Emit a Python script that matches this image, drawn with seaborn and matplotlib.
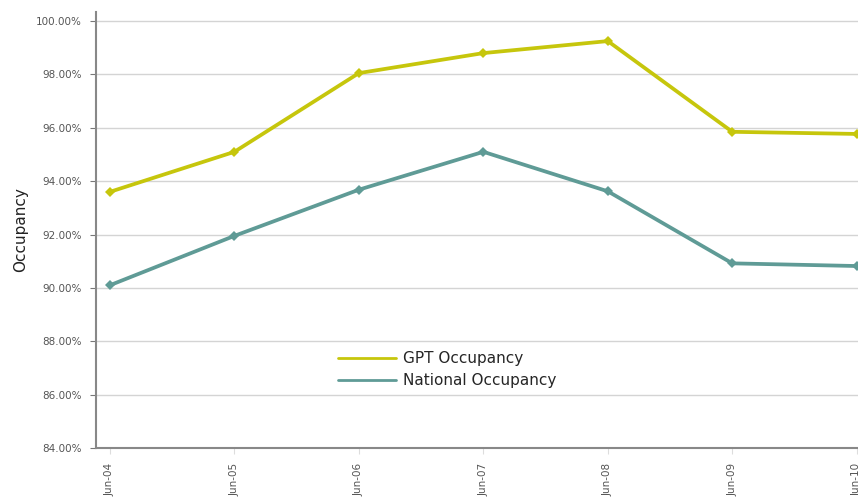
import numpy as np
import pandas as pd
import matplotlib.pyplot as plt
import seaborn as sns

# data
periods = ["Jun-04", "Jun-05", "Jun-06", "Jun-07", "Jun-08", "Jun-09", "Jun-10"]
gpt_occ = [93.6, 95.1, 98.05, 98.8, 99.25, 95.85, 95.77]
national_occ = [90.1, 91.95, 93.68, 95.1, 93.62, 90.92, 90.82]
series_names = ["GPT Occupancy", "National Occupancy"]
y_ticks = [84, 86, 88, 90, 92, 94, 96, 98, 100]

df = pd.DataFrame({
    "pos": list(range(len(periods))) * 2,
    "value": gpt_occ + national_occ,
    "series": [series_names[0]] * len(periods) + [series_names[1]] * len(periods),
})

sns.set_style("white")
plt.rcParams["font.family"] = ["DejaVu Sans"]

fig = plt.figure(figsize=(8.58, 5.03), dpi=100)
ax = fig.add_axes([96 / 858, 55 / 503, (858 - 96) / 858, (448 - 12) / 503])

palette = {"GPT Occupancy": "#c6c60c", "National Occupancy": "#5f9b96"}
sns.lineplot(data=df, x="pos", y="value", hue="series", palette=palette,
             marker="D", markersize=5, markeredgewidth=0, linewidth=2.7,
             ax=ax, clip_on=False)

ax.set_xlim(-0.112, 6.01)
ax.set_ylim(84, 100.34)
ax.set_yticks(y_ticks)
ax.set_yticklabels([f"{v:.2f}%" for v in y_ticks], fontsize=7.5, color="#555555")
ax.set_xticks(range(len(periods)))
ax.set_xticklabels(periods, rotation=90, fontsize=7.5, color="#555555")
ax.grid(axis="y", color="#d4d4d4", linewidth=1)
ax.tick_params(axis="y", length=4, color="#777777", direction="out", left=True, pad=6)
ax.tick_params(axis="x", length=4, color="#dddddd", direction="out", bottom=True, pad=7)

for s in ["top", "right"]:
    ax.spines[s].set_visible(False)
for s in ["left", "bottom"]:
    ax.spines[s].set_color("#888888")
    ax.spines[s].set_linewidth(1.5)

ax.set_xlabel("")
ax.set_ylabel("Occupancy", fontsize=11, color="#222222", labelpad=6)

leg = ax.legend(loc="upper left", bbox_to_anchor=(0.31, 0.236), frameon=False,
                fontsize=11, handlelength=3.8, handletextpad=0.45, labelspacing=0.45,
                borderaxespad=0)
for line in leg.get_lines():
    line.set_linewidth(2)
    line.set_marker("")

fig.savefig("out.png", dpi=100)
